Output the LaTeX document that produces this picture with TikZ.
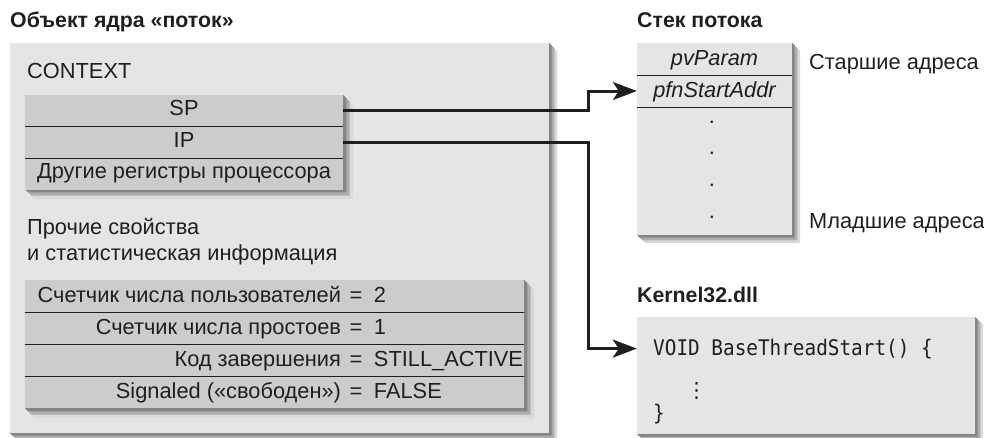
\documentclass[tikz,border=0pt]{standalone}
\usepackage{fontspec}
\setmainfont{Liberation Sans}
\setmonofont[FakeStretch=0.9]{DejaVu Sans Mono}
\newfontfamily\dotsfont{DejaVu Sans}
\usetikzlibrary{arrows.meta,positioning}

\definecolor{panelgray}{gray}{0.90}
\definecolor{rowgray}{gray}{0.80}
\definecolor{inkgray}{gray}{0.12}

% bevelled shadow right/below a box: x1,y1,x2,y2,depth
\newcommand{\castshade}[5]{%
  \fill[black!15] (#3,#2) -- (#3+#5,#2+#5) -- (#3+#5,#4+#5) -- (#1+#5,#4+#5) -- (#1,#4) -- cycle;
  \fill[black!32] (#3,#2) -- (#3+#5*0.66,#2+#5*0.66) -- (#3+#5*0.66,#4+#5*0.66) -- (#1+#5*0.66,#4+#5*0.66) -- (#1,#4) -- cycle;
  \fill[black!48] (#3,#2) -- (#3+#5*0.33,#2+#5*0.33) -- (#3+#5*0.33,#4+#5*0.33) -- (#1+#5*0.33,#4+#5*0.33) -- (#1,#4) -- cycle;
}
% one line of the statistics table
\newcommand{\statline}[2]{\makebox[316pt][r]{#1}\makebox[30pt]{=}\makebox[153pt][l]{\hspace{3pt}#2}}

\begin{document}
\begin{tikzpicture}[x=1pt,y=-1pt,
  every node/.style={text=inkgray,font=\fontsize{21.8}{26}\selectfont},
  heading/.style={anchor=base west,inner sep=0pt,font=\bfseries\fontsize{21.3}{25}\selectfont},
  note/.style={anchor=base west,inner sep=0pt},
  regrow/.style={fill=rowgray,inner sep=0pt,minimum width=318pt,minimum height=31.5pt,text height=15pt,text depth=5pt},
  statrow/.style={fill=rowgray,inner sep=0pt,minimum width=499pt,minimum height=32pt,text height=16pt,text depth=4pt},
  stackrow/.style={fill=panelgray,inner sep=0pt,minimum width=155pt,minimum height=32pt,text height=16pt,text depth=4pt,font=\itshape\fontsize{21.8}{26}\selectfont},
  rule/.style={draw=inkgray,line width=1.2pt},
  link/.style={draw=inkgray,line width=3pt,-{Stealth[length=24pt,width=18pt,inset=6pt]}},
  codeline/.style={anchor=base west,inner sep=0pt,font=\ttfamily\fontsize{21.5}{25}\selectfont}
]
\useasboundingbox (0,0) rectangle (984,437);

% thread kernel object
\node[heading] (objtitle) at (10,27) {Объект ядра «поток»};
\castshade{10}{43}{549}{433}{8}
\fill[panelgray] (10,43) rectangle (549,433);
\node[note] (ctxlabel) at (27,78) {CONTEXT};

\castshade{25}{95}{343}{189}{10}
\node[regrow] (sp) at (184,110.75) {SP};
\node[regrow] (ip) at (184,142.25) {IP};
\node[regrow] (otherregs) at (184,173.75) {Другие регистры процессора};
\draw[rule] (sp.south west) -- (sp.south east);
\draw[rule] (ip.south west) -- (ip.south east);

\node[note] (misc1) at (27,234) {Прочие свойства};
\node[note] (misc2) at (27,260) {и статистическая информация};

\castshade{25}{280}{524}{408}{10}
\node[statrow] (usercnt) at (274.5,296) {\statline{Счетчик числа пользователей}{2}};
\node[statrow] (idlecnt) at (274.5,328) {\statline{Счетчик числа простоев}{1}};
\node[statrow] (exitcode) at (274.5,360) {\statline{Код завершения}{STILL\_ACTIVE}};
\node[statrow] (signaled) at (274.5,392) {\statline{Signaled («свободен»)}{FALSE}};
\draw[rule] (usercnt.south west) -- (usercnt.south east);
\draw[rule] (idlecnt.south west) -- (idlecnt.south east);
\draw[rule] (exitcode.south west) -- (exitcode.south east);

% thread stack
\node[heading] (stacktitle) at (637,27) {Стек потока};
\castshade{637}{43}{792}{235}{8}
\node[stackrow] (pvparam) at (714.5,59) {pvParam};
\node[stackrow] (pfn) at (714.5,91) {pfnStartAddr};
\node[stackrow,minimum height=128pt] (stackrest) at (714.5,171) {};
\draw[rule] (pvparam.south west) -- (pvparam.south east);
\draw[rule] (pfn.south west) -- (pfn.south east);
\node (dot1) at (712,122) {.};
\node (dot2) at (712,153) {.};
\node (dot3) at (712,185) {.};
\node (dot4) at (712,217) {.};
\node[note] (hiaddr) at (809,69) {Старшие адреса};
\node[note] (loaddr) at (809,228) {Младшие адреса};

% Kernel32.dll
\node[heading] (dlltitle) at (637,302) {Kernel32.dll};
\castshade{637}{317}{975}{434}{8}
\node[fill=panelgray,inner sep=0pt,minimum width=338pt,minimum height=117pt] (kbox) at (806,375.5) {};
\node[codeline] (vline) at (653,355) {VOID BaseThreadStart() \{};
\node[note,font=\dotsfont\fontsize{21}{25}\selectfont] (vdots) at (686,397) {⋮};
\node[codeline] (closebrace) at (653,420) {\}};

% pointers
\coordinate (bend) at (588,0);
\draw[link] (sp.east) -- (sp.east -| bend) |- (pfn.west);
\draw[link] (ip.east) -- (ip.east -| bend) |- (vline.west -| kbox.west);
\end{tikzpicture}
\end{document}
